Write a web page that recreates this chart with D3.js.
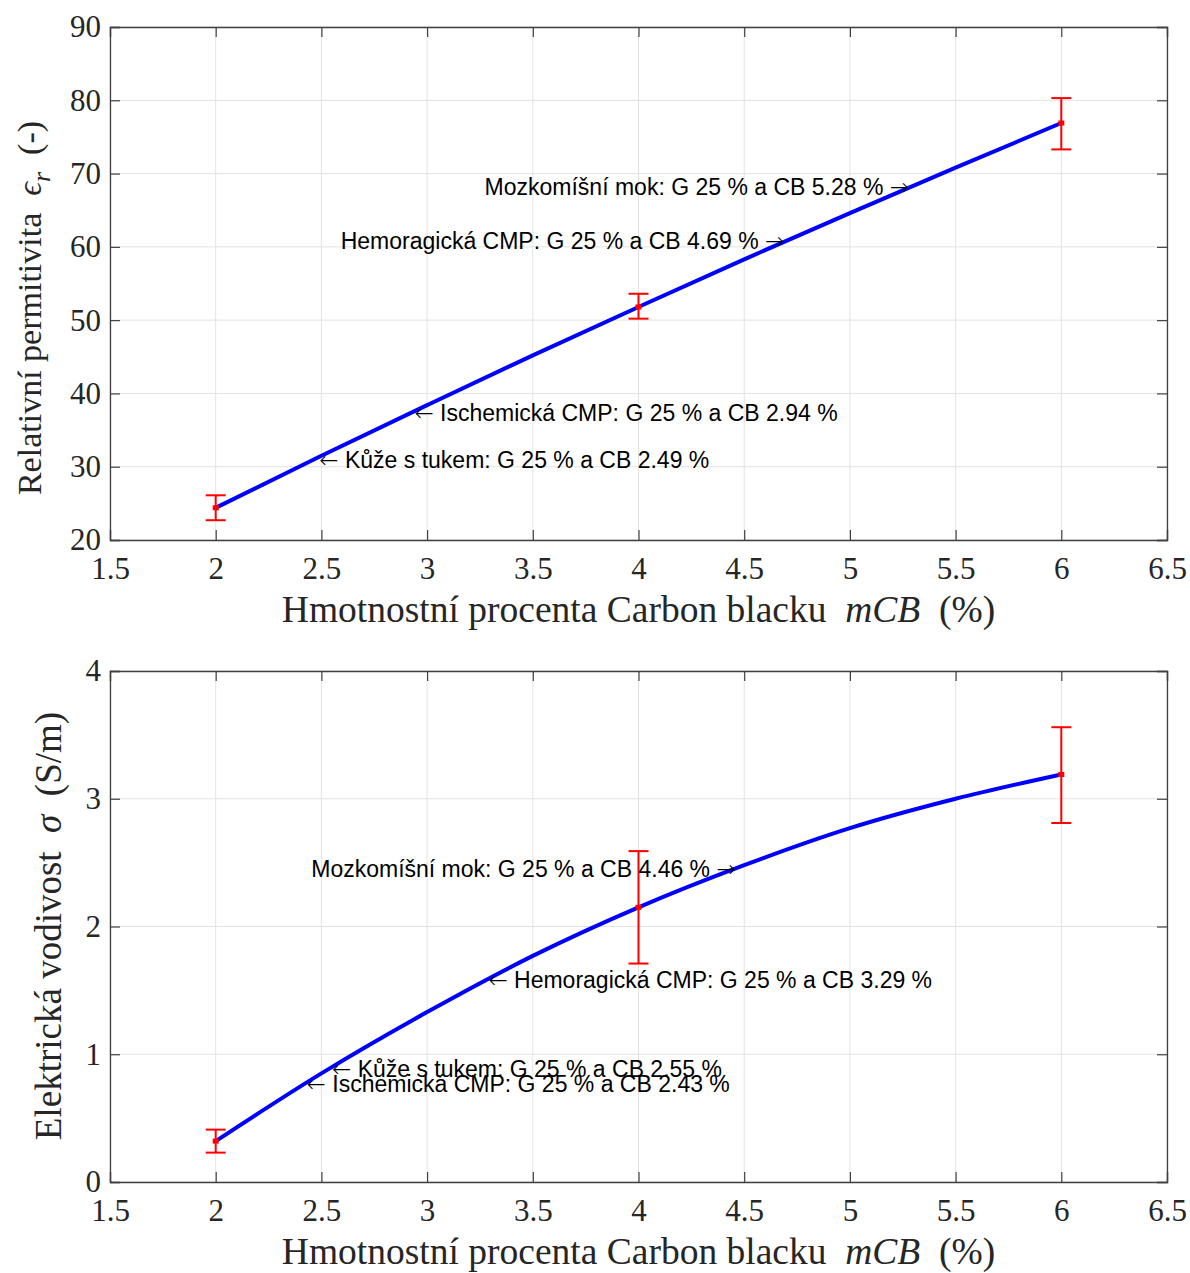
<!DOCTYPE html>
<html>
<head>
<meta charset="utf-8">
<script src="https://cdn.jsdelivr.net/npm/d3@7"></script>
<style>
  body { margin: 0; background: #fff; }
  svg text { white-space: pre; }
</style>
</head>
<body>
<svg id="chart" width="1190" height="1273"></svg>
<script>
// data
var mCB = [2, 4, 6];
var permMean = [24.4, 51.8, 76.9];
var permLo = [22.7, 50.2, 73.3];
var permHi = [26.1, 53.6, 80.3];
var condMean = [0.32, 2.15, 3.19];
var condLo = [0.23, 1.71, 2.81];
var condHi = [0.41, 2.59, 3.56];

// fitted curves
var fitX = [2, 2.5, 3, 3.5, 4, 4.5, 5, 5.5, 6];
var permFit = [24.4, 31.5, 38.4, 45.2, 51.8, 58.3, 64.6, 70.8, 76.9];
var condFit = [0.32, 0.85, 1.33, 1.77, 2.15, 2.48, 2.77, 3.00, 3.19];

// annotations
var permNotes = ["Mozkomíšní mok", "Hemoragická CMP", "Ischemická CMP", "Kůže s tukem"];
var permNoteCB = [5.28, 4.69, 2.94, 2.49];
var permNoteY = [68.2, 60.8, 37.3, 30.9];
var permNoteSide = ["r", "r", "l", "l"];
var condNotes = ["Mozkomíšní mok", "Hemoragická CMP", "Kůže s tukem", "Ischemická CMP"];
var condNoteCB = [4.46, 3.29, 2.55, 2.43];
var condNoteY = [2.45, 1.58, 0.885, 0.77];
var condNoteSide = ["r", "l", "l", "l"];

var xTicks = [1.5, 2, 2.5, 3, 3.5, 4, 4.5, 5, 5.5, 6, 6.5];
var permTicks = [20, 30, 40, 50, 60, 70, 80, 90];
var condTicks = [0, 1, 2, 3, 4];

var svg = d3.select("#chart");
var serif = "'Liberation Serif', 'Times New Roman', serif";
var sans = "'Liberation Sans', Arial, sans-serif";

function panel(top, bottom, yDomain, yTicks, fitY, mean, lo, hi, notes, noteCB, noteY, noteSide) {
  var x = d3.scaleLinear().domain([1.5, 6.5]).range([110, 1167]);
  var y = d3.scaleLinear().domain(yDomain).range([bottom, top]);
  var g = svg.append("g");

  // grid
  g.selectAll(".gx").data(xTicks).enter().append("line")
    .attr("x1", d => x(d)).attr("x2", d => x(d))
    .attr("y1", top).attr("y2", bottom)
    .attr("stroke", "#e3e3e3").attr("stroke-width", 1);
  g.selectAll(".gy").data(yTicks).enter().append("line")
    .attr("x1", 110).attr("x2", 1167)
    .attr("y1", d => y(d)).attr("y2", d => y(d))
    .attr("stroke", "#e3e3e3").attr("stroke-width", 1);

  // axes, ticks pointing in
  var ax = g.append("g").attr("transform", "translate(0," + bottom + ")")
    .call(d3.axisBottom(x).tickValues(xTicks).tickSize(-10).tickPadding(17).tickFormat(d3.format("")));
  var ay = g.append("g").attr("transform", "translate(110,0)")
    .call(d3.axisLeft(y).tickValues(yTicks).tickSize(-10).tickPadding(9).tickFormat(d3.format("")));
  var at = g.append("g").attr("transform", "translate(0," + top + ")")
    .call(d3.axisTop(x).tickValues(xTicks).tickSize(-10).tickFormat(""));
  var ar = g.append("g").attr("transform", "translate(1167,0)")
    .call(d3.axisRight(y).tickValues(yTicks).tickSize(-10).tickFormat(""));
  [ax, ay, at, ar].forEach(function(a) {
    a.select(".domain").attr("stroke", "#404040").attr("stroke-width", 1.3);
    a.selectAll(".tick line").attr("stroke", "#404040").attr("stroke-width", 1.2);
    a.selectAll("text").attr("font-family", serif).attr("font-size", 31).attr("fill", "#262626");
  });

  // fitted line
  var line = d3.line().x(d => x(d[0])).y(d => y(d[1])).curve(d3.curveMonotoneX);
  g.append("path").datum(fitX.map((v, i) => [v, fitY[i]]))
    .attr("d", line).attr("fill", "none").attr("stroke", "#0000ff").attr("stroke-width", 4);

  // error bars
  var eb = g.selectAll(".eb").data(mCB).enter().append("g").attr("stroke", "#ff0000");
  eb.append("line").attr("x1", d => x(d)).attr("x2", d => x(d))
    .attr("y1", (d, i) => y(lo[i])).attr("y2", (d, i) => y(hi[i])).attr("stroke-width", 2);
  eb.append("line").attr("x1", d => x(d) - 10).attr("x2", d => x(d) + 10)
    .attr("y1", (d, i) => y(lo[i])).attr("y2", (d, i) => y(lo[i])).attr("stroke-width", 2);
  eb.append("line").attr("x1", d => x(d) - 10).attr("x2", d => x(d) + 10)
    .attr("y1", (d, i) => y(hi[i])).attr("y2", (d, i) => y(hi[i])).attr("stroke-width", 2);
  eb.append("line").attr("x1", d => x(d) - 3).attr("x2", d => x(d) + 3)
    .attr("y1", (d, i) => y(mean[i])).attr("y2", (d, i) => y(mean[i])).attr("stroke-width", 5);

  // annotations
  var nt = g.selectAll(".note").data(notes).enter().append("text")
    .attr("x", (d, i) => x(noteCB[i]))
    .attr("y", (d, i) => y(noteY[i]))
    .attr("dy", "0.35em")
    .attr("text-anchor", (d, i) => noteSide[i] == "r" ? "end" : "start")
    .attr("font-family", sans).attr("font-size", 23).attr("fill", "#000");
  nt.each(function(d, i) {
    var t = d3.select(this);
    var s = d + ": G 25 % a CB " + noteCB[i].toFixed(2) + " %";
    if (noteSide[i] == "r") {
      t.append("tspan").text(s + " ");
      t.append("tspan").attr("font-family", "'DejaVu Sans'").attr("font-weight", 200).text("\u2192");
    } else {
      t.append("tspan").attr("font-family", "'DejaVu Sans'").attr("font-weight", 200).text("\u2190");
      t.append("tspan").text(" " + s);
    }
  });

  // x label
  var xl = g.append("text").attr("x", 638.5).attr("y", bottom + 82)
    .attr("text-anchor", "middle").attr("font-family", serif).attr("font-size", 37.5).attr("fill", "#262626");
  xl.append("tspan").text("Hmotnostní procenta Carbon blacku  ");
  xl.append("tspan").attr("font-style", "italic").text("mCB");
  xl.append("tspan").text("  (%)");

  return {g: g, x: x, y: y};
}

panel(27, 540, [20, 90], permTicks, permFit, permMean, permLo, permHi,
  permNotes, permNoteCB, permNoteY, permNoteSide);
panel(671, 1182, [0, 4], condTicks, condFit, condMean, condLo, condHi,
  condNotes, condNoteCB, condNoteY, condNoteSide);

// y labels
var yl1 = svg.append("text").attr("transform", "translate(41,308) rotate(-90)")
  .attr("text-anchor", "middle").attr("font-family", serif).attr("font-size", 34).attr("fill", "#262626");
yl1.append("tspan").text("Relativní permitivita  ");
yl1.append("tspan").attr("font-style", "italic").text("\u03f5");
yl1.append("tspan").attr("font-style", "italic").attr("font-size", 26).attr("dy", 9).text("r");
yl1.append("tspan").attr("dy", -9).text("  (-)");

var yl2 = svg.append("text").attr("transform", "translate(61,926) rotate(-90)")
  .attr("text-anchor", "middle").attr("font-family", serif).attr("font-size", 37).attr("fill", "#262626");
yl2.append("tspan").text("Elektrická vodivost  ");
yl2.append("tspan").attr("font-style", "italic").text("\u03c3");
yl2.append("tspan").text("  (S/m)");
</script>
</body>
</html>
